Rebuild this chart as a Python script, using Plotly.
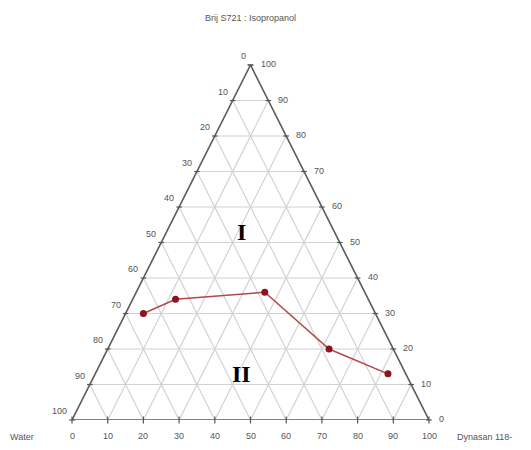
import plotly.graph_objects as go

# Composition (%) of each measured point on the phase boundary
brij_isopropanol = [30, 34, 36, 20, 13]
dynasan = [5, 12, 36, 62, 82]
water = [65, 54, 28, 18, 5]

tick_values = [0, 10, 20, 30, 40, 50, 60, 70, 80, 90, 100]
tick_labels = [str(v) for v in tick_values]

axis_top = "Brij S721 : Isopropanol"
axis_left = "Water"
axis_right = "Dynasan 118-"
regions = ["I", "II"]
region_pos = [(53, 21), (13, 41)]  # (brij:iso, dynasan) % where each region label sits


def to_xy(top, dyn):
    """Ternary composition (percent) -> planar position inside the triangle."""
    t = top / 100.0
    d = dyn / 100.0
    return d + t / 2.0, t


fig = go.Figure()

# Grid lines for every 10 % step of each component
gx, gy = [], []
for v in tick_values[1:-1]:
    for a, b in [
        # constant Brij:Isopropanol (horizontal)
        ((v, 0), (v, 100 - v)),
        # constant Dynasan (parallel to the left side)
        ((0, v), (100 - v, v)),
        # constant Water (parallel to the right side)
        ((0, 100 - v), (100 - v, 0)),
    ]:
        x1, y1 = to_xy(*a)
        x2, y2 = to_xy(*b)
        gx += [x1, x2, None]
        gy += [y1, y2, None]
fig.add_trace(go.Scatter(x=gx, y=gy, mode="lines",
                         line=dict(color="#d2d2d2", width=1.2),
                         hoverinfo="skip", showlegend=False))

# Triangle outline
corners = [(0, 0), (100, 0), (0, 100), (0, 0)]
ox = [to_xy(*c)[0] for c in corners]
oy = [to_xy(*c)[1] for c in corners]
fig.add_trace(go.Scatter(x=ox, y=oy, mode="lines",
                         line=dict(color="#5a5a5a", width=1.6),
                         hoverinfo="skip", showlegend=False))

# Small tick marks on the three sides
bx = [to_xy(0, v)[0] for v in tick_values]
by = [to_xy(0, v)[1] for v in tick_values]
fig.add_trace(go.Scatter(x=bx, y=by, mode="markers",
                         marker=dict(symbol="line-ns", size=5,
                                     line=dict(color="#555", width=1.2)),
                         hoverinfo="skip", showlegend=False, cliponaxis=False))
rx = [to_xy(v, 100 - v)[0] for v in tick_values]
ry = [to_xy(v, 100 - v)[1] for v in tick_values]
lx = [to_xy(100 - v, 0)[0] for v in tick_values]
ly = [to_xy(100 - v, 0)[1] for v in tick_values]
fig.add_trace(go.Scatter(x=rx + lx, y=ry + ly, mode="markers",
                         marker=dict(symbol="line-ew", size=4,
                                     line=dict(color="#555", width=1.2)),
                         hoverinfo="skip", showlegend=False, cliponaxis=False))

# Phase boundary
px = [to_xy(t, d)[0] for t, d in zip(brij_isopropanol, dynasan)]
py = [to_xy(t, d)[1] for t, d in zip(brij_isopropanol, dynasan)]
fig.add_trace(go.Scatter(
    x=px, y=py, mode="lines+markers",
    line=dict(color="#b2484c", width=1.5),
    marker=dict(color="#8c1420", size=7),
    customdata=list(zip(brij_isopropanol, dynasan, water)),
    hovertemplate="Brij S721 : Isopropanol %{customdata[0]}%<br>"
                  "Dynasan %{customdata[1]}%<br>Water %{customdata[2]}%<extra></extra>",
    showlegend=False, cliponaxis=False))

tick_font = dict(family="Liberation Sans, Arial, sans-serif", size=9, color="#555")
ann = []
for v, lab in zip(tick_values, tick_labels):
    x, y = to_xy(0, v)
    ann.append(dict(x=x, y=y, text=lab, showarrow=False, font=tick_font,
                    xanchor="center", yanchor="top", yshift=-9))
    x, y = to_xy(v, 100 - v)
    ann.append(dict(x=x, y=y, text=lab, showarrow=False, font=tick_font,
                    xanchor="left", yanchor="middle", xshift=8, yshift=1))
    x, y = to_xy(100 - v, 0)
    ann.append(dict(x=x, y=y, text=lab, showarrow=False, font=tick_font,
                    xanchor="right", yanchor="middle", xshift=-3, yshift=9))

title_font = dict(family="Liberation Sans, Arial, sans-serif", size=9, color="#555")
ann.append(dict(x=0.5, y=1, text=axis_top, showarrow=False, font=title_font,
                xanchor="center", yanchor="middle", yshift=47))
ann.append(dict(x=0, y=0, text=axis_left, showarrow=False, font=title_font,
                xanchor="right", yanchor="middle", xshift=-36, yshift=-17))
ann.append(dict(x=1, y=0, text=axis_right, showarrow=False, font=title_font,
                xanchor="left", yanchor="middle", xshift=26, yshift=-17))

region_font = dict(family="Liberation Serif, Times New Roman, serif", size=24, color="#000")
for lab, (t, d) in zip(regions, region_pos):
    x, y = to_xy(t, d)
    ann.append(dict(x=x, y=y, text="<b>%s</b>" % lab, showarrow=False,
                    font=region_font, xanchor="center", yanchor="middle"))

fig.update_layout(
    width=531, height=450,
    margin=dict(l=72, r=102, t=65, b=30),
    paper_bgcolor="white", plot_bgcolor="white",
    xaxis=dict(range=[0, 1], visible=False, fixedrange=True),
    yaxis=dict(range=[0, 1], visible=False, fixedrange=True),
    annotations=ann,
    showlegend=False,
)

fig.write_html("out.html")
